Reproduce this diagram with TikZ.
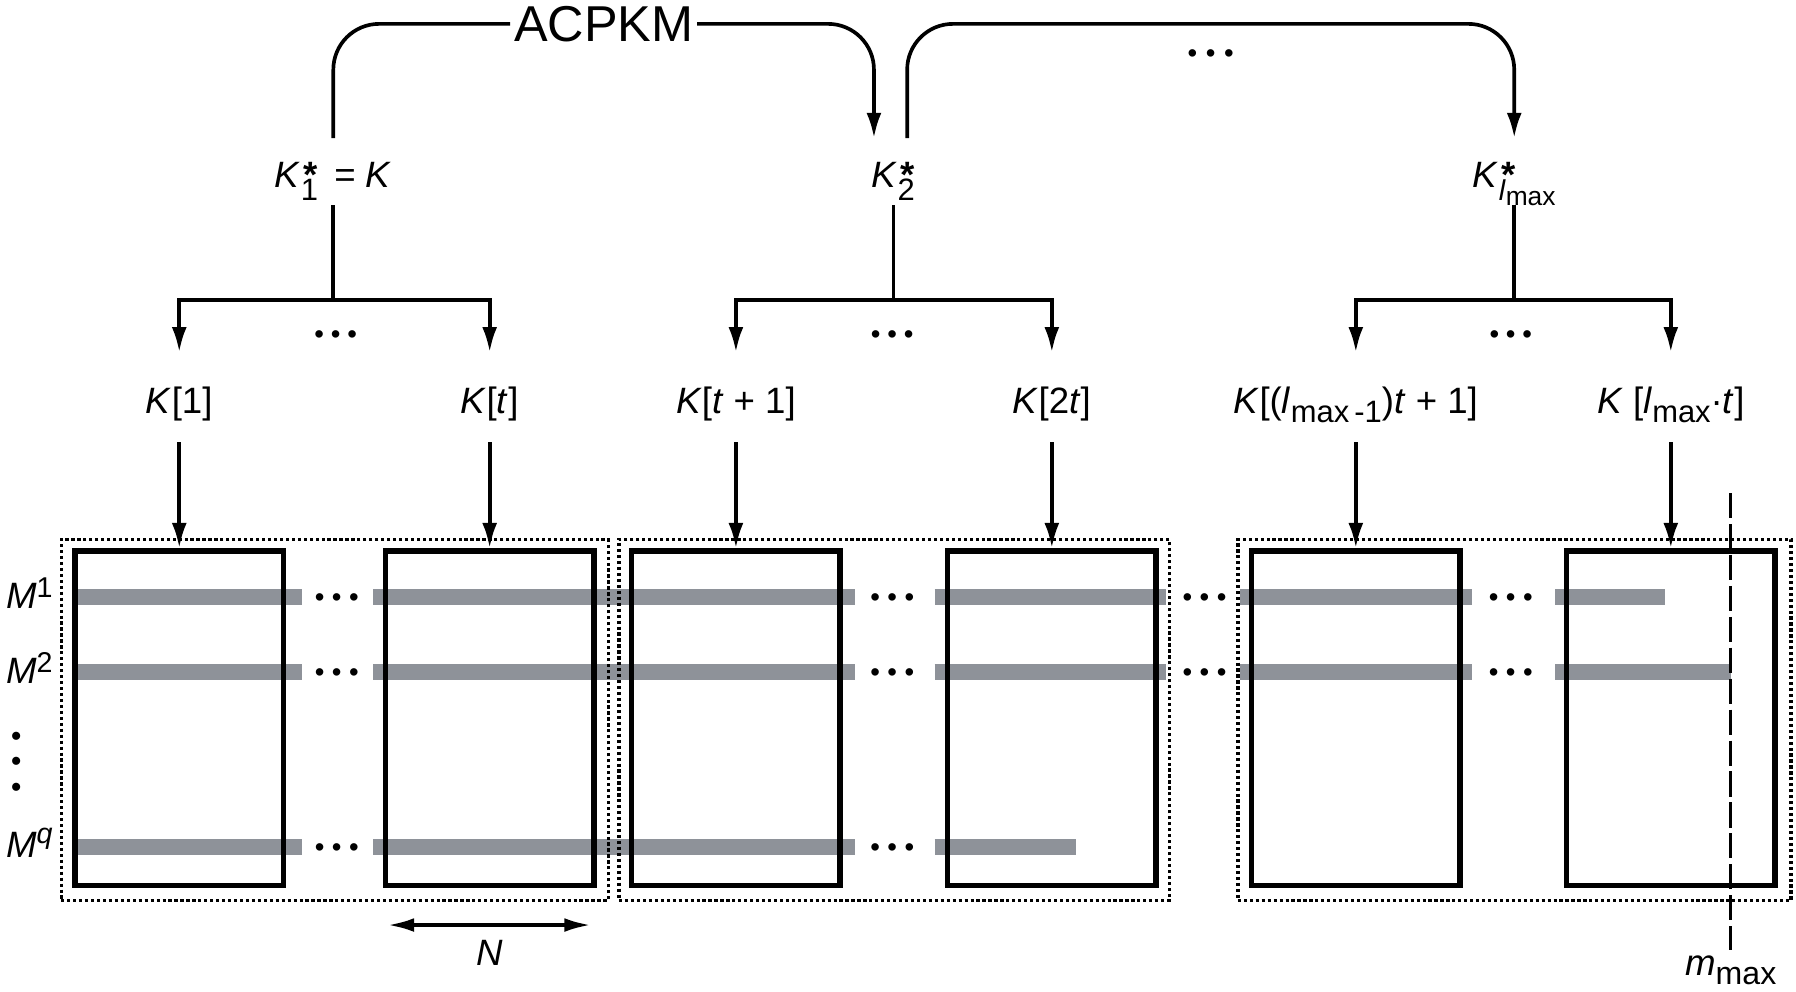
\documentclass[tikz,border=0pt]{standalone}
\usepackage{fontspec}
\setmainfont{Liberation Sans}
\usepackage{amsmath}
\usetikzlibrary{arrows.meta,calc}
\definecolor{barcol}{RGB}{142,146,153}
\newcommand\fsLab{\fontsize{16}{19}\selectfont}
\newcommand\fsBig{\fontsize{22}{26}\selectfont}
\newcommand\dn[3]{\raisebox{-#1}{\fontsize{#2}{#2}\selectfont #3}}
\newcommand\up[3]{\raisebox{#1}{\fontsize{#2}{#2}\selectfont #3}}
\newcommand\astr{\rlap{\kern1pt\raisebox{0.3pt}{\fontsize{16}{16}\selectfont\bfseries *}}}
\newcommand\threedots[1]{\makebox[#1]{•}\makebox[#1]{•}\makebox[#1]{•}}
\begin{document}
\begin{tikzpicture}[x=0.5pt,y=-0.5pt,
  conn/.style={line width=1.6pt},
  arr/.style={line width=1.6pt,-{Latex[length=11pt,width=6.5pt]}},
  dblarr/.style={line width=1.6pt,{Latex[length=11.5pt,width=6pt]}-{Latex[length=11.5pt,width=6pt]}},
  blk/.style={draw,line width=2.4pt,minimum width=91pt,minimum height=146pt,inner sep=0pt},
  grp/.style={draw,line width=1.5pt,dash pattern=on 1.4pt off 1.2pt,inner sep=0pt,minimum height=157.5pt},
  bar/.style={line width=7pt,draw=barcol},
  klab/.style={font=\fsLab,anchor=base,inner xsep=0pt,inner ysep=8pt,text height=18.5pt,text depth=4.3pt},
  slab/.style={font=\fsLab,anchor=base,inner xsep=0pt,inner ysep=5pt,text height=16.5pt,text depth=2.5pt},
  mlab/.style={font=\fsLab,anchor=base west,inner sep=0pt},
  hdots/.style={font=\fontsize{12}{12}\selectfont,inner sep=0pt,text height=8.5pt,text depth=0pt},
  vdotsty/.style={font=\fontsize{13}{13}\selectfont,inner sep=0pt,text height=9.2pt,text depth=0pt,rotate=90},
  mdash/.style={line width=1.3pt,dash pattern=on 11pt off 2.5pt}
]
\useasboundingbox (0,0) rectangle (1568,866);

% ---------- gray rows ----------
\draw[bar] (67,521) -- (263.5,521);
\draw[bar] (325.8,521) -- (746.4,521);
\draw[bar] (816,521) -- (1018,521);
\draw[bar] (1082.6,521) -- (1285,521);
\draw[bar] (1358,521) -- (1454,521);
\draw[bar] (67,586.5) -- (263.5,586.5);
\draw[bar] (325.8,586.5) -- (746.4,586.5);
\draw[bar] (816,586.5) -- (1018,586.5);
\draw[bar] (1082.6,586.5) -- (1285,586.5);
\draw[bar] (1358,586.5) -- (1511,586.5);
\draw[bar] (67,739.5) -- (263.5,739.5);
\draw[bar] (325.8,739.5) -- (746.4,739.5);
\draw[bar] (816,739.5) -- (939,739.5);

\node[hdots] (r1a) at (294,521) {\threedots{7.5pt}};
\node[hdots] (r1b) at (779,521) {\threedots{7.5pt}};
\node[hdots] (r1c) at (1051.6,521) {\threedots{7.5pt}};
\node[hdots] (r1d) at (1319,521) {\threedots{7.5pt}};
\node[hdots] (r2a) at (294,586.5) {\threedots{7.5pt}};
\node[hdots] (r2b) at (779,586.5) {\threedots{7.5pt}};
\node[hdots] (r2c) at (1051.6,586.5) {\threedots{7.5pt}};
\node[hdots] (r2d) at (1319,586.5) {\threedots{7.5pt}};
\node[hdots] (rqa) at (294,739.5) {\threedots{7.5pt}};
\node[hdots] (rqb) at (779,739.5) {\threedots{7.5pt}};

% ---------- group boxes ----------
\node[grp,minimum width=238.75pt] (d1) at (292.25,628.5) {};
\node[grp,minimum width=240.25pt] (d2) at (780.75,628.5) {};
\node[grp,minimum width=241.5pt] (d3) at (1322.2,628.5) {};

% ---------- blocks ----------
\node[blk] (box1) at (156.5,627) {};
\node[blk] (box2) at (427.5,627) {};
\node[blk] (box3) at (642.5,627) {};
\node[blk] (box4) at (918.3,627) {};
\node[blk] (box5) at (1183.7,627) {};
\node[blk] (box6) at (1458.7,627) {};

% ---------- m_max ----------
\coordinate (mt) at (1510.6,430.5);
\coordinate (mb) at (1510.6,829.4);
\draw[mdash] (mt) -- (mb);
\node[font=\fsLab,anchor=base,inner sep=0pt] (mmax) at (1511,852) {\textit{m}\dn{3.8pt}{14}{max}};

% ---------- M labels ----------
\node[mlab] (m1) at (5,531) {\textit{M}\up{4.5pt}{12.5}{1}};
\node[mlab] (m2) at (5,596.5) {\textit{M}\up{4.5pt}{12.5}{2}};
\node[mlab] (mq) at (5,749) {\textit{M}\up{6.5pt}{12.5}{\itshape q}};
\node[vdotsty] (mv) at (13.75,665) {\threedots{11pt}};

% ---------- N ----------
\coordinate (na) at (338.5,807.6);
\coordinate (nb) at (515.8,807.6);
\draw[dblarr] (na) -- (nb);
\node[font=\fsLab,anchor=base,inner sep=0pt] (nlab) at (428,842.5) {\textit{N}};

% ---------- key labels ----------
\node[klab] (k1) at (156.5,361) {\textit{K}[1]};
\node[klab] (kt) at (427.5,361) {\textit{K}[\textit{t}]};
\node[klab] (kt1) at (642.5,361) {\textit{K}[\textit{t} + 1]};
\node[klab] (k2t) at (918.3,361) {\textit{K}[2\textit{t}]};
\node[klab] (kl1) at (1183.7,361) {\textit{K}[(\textit{l}\dn{4pt}{13.5}{max\,-1})\textit{t} + 1]};
\node[klab] (klt) at (1458.7,361) {\textit{K} [\textit{l}\dn{4pt}{13.5}{max}·\textit{t}]};

\foreach \k/\b in {k1/box1,kt/box2,kt1/box3,k2t/box4,kl1/box5,klt/box6}
  \draw[arr] (\k.south) -- (\k.south |- \b.north);

% ---------- star keys ----------
\node[slab] (k1s) at (291,164) {\textit{K}\astr\dn{5.5pt}{13.5}{1}\ \,= \textit{K}};
\node[slab] (k2s) at (780,164) {\textit{K}\astr\dn{5.5pt}{13.5}{2}};
\node[slab] (kls) at (1322,164) {\textit{K}\astr\dn{5.5pt}{12.5}{\textit{l}\dn{2pt}{11.5}{max}}};

\coordinate (b1) at (291,262);
\coordinate (b2) at (780,262);
\coordinate (b3) at (1322,262);
\draw[conn] (k1s.south) -- (b1);
\draw[conn] (k2s.south) -- (b2);
\draw[conn] (kls.south) -- (b3);
\draw[arr] (b1) -| (k1.north);
\draw[arr] (b1) -| (kt.north);
\draw[arr] (b2) -| (kt1.north);
\draw[arr] (b2) -| (k2t.north);
\draw[arr] (b3) -| (kl1.north);
\draw[arr] (b3) -| (klt.north);
\node[hdots] (g1) at (293,291) {\threedots{7.2pt}};
\node[hdots] (g2) at (779,291) {\threedots{7.2pt}};
\node[hdots] (g3) at (1319,291) {\threedots{7.2pt}};

% ---------- ACPKM ----------
\node[font=\fsBig,anchor=base,inner xsep=1.5pt,inner ysep=0pt] (acpkm) at (527,36) {ACPKM};
\draw[conn,rounded corners=20pt] (k1s.north) |- (acpkm.west);
\draw[arr,rounded corners=20pt] (acpkm.east) -| ($(k2s.north)+(-17,0)$);
\draw[arr,rounded corners=20pt] ($(k2s.north)+(12,0)$) |- (kls.north |- acpkm.east) -- (kls.north);
\node[hdots] (topdots) at (1057,46) {\threedots{8pt}};
\end{tikzpicture}
\end{document}
